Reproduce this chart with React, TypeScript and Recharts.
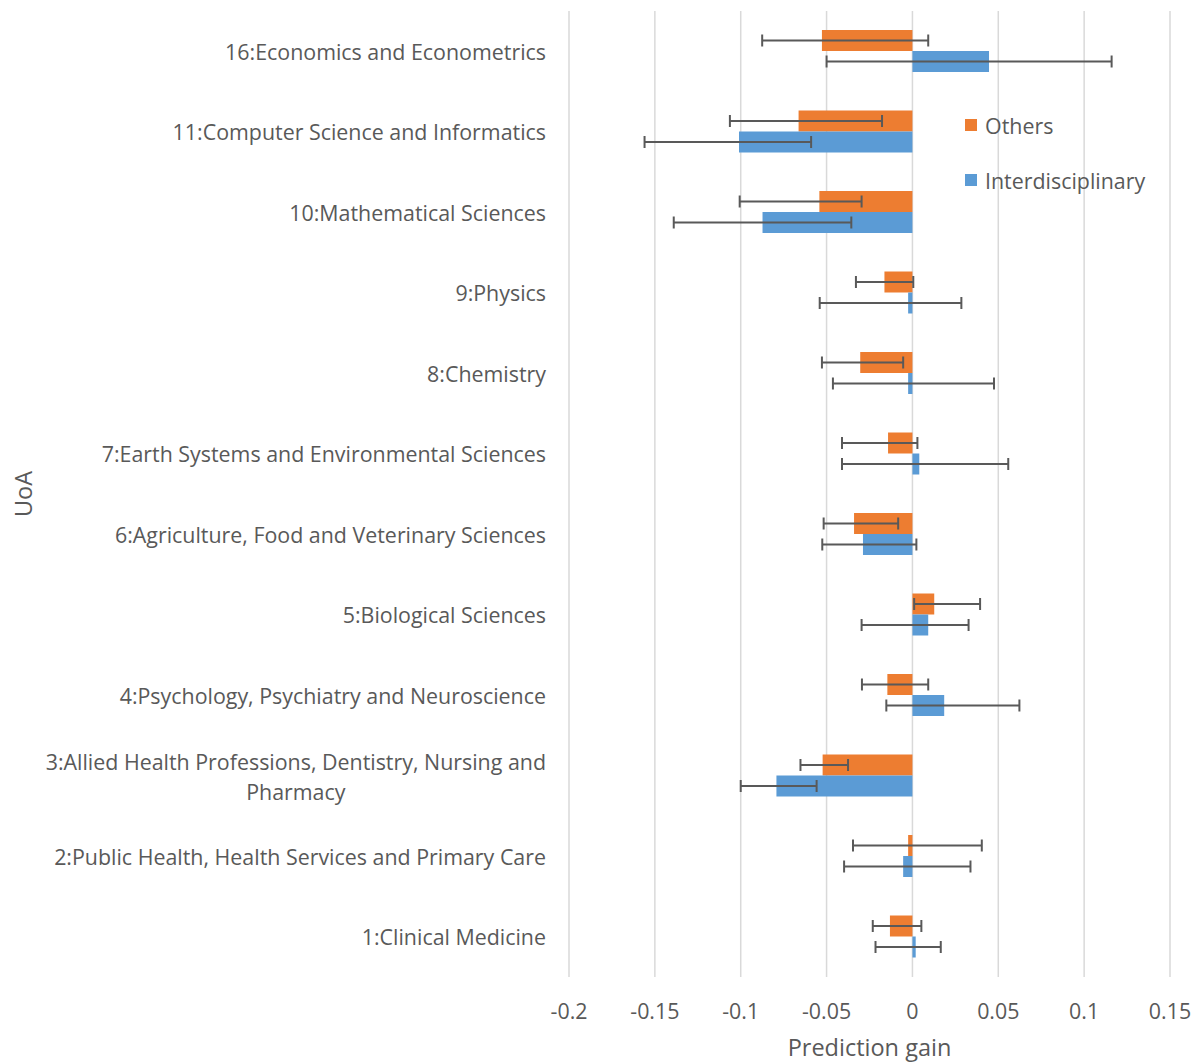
import React from 'react';
import { BarChart, Bar, XAxis, YAxis, CartesianGrid, ErrorBar, Legend } from 'recharts';

const categories = [
  '16:Economics and Econometrics',
  '11:Computer Science and Informatics',
  '10:Mathematical Sciences',
  '9:Physics',
  '8:Chemistry',
  '7:Earth Systems and Environmental Sciences',
  '6:Agriculture, Food and Veterinary Sciences',
  '5:Biological Sciences',
  '4:Psychology, Psychiatry and Neuroscience',
  '3:Allied Health Professions, Dentistry, Nursing and Pharmacy',
  '2:Public Health, Health Services and Primary Care',
  '1:Clinical Medicine',
];

const othersValues = [-0.0527, -0.0663, -0.0542, -0.0163, -0.0304, -0.0142, -0.034, 0.0127, -0.0146, -0.0523, -0.0025, -0.0131];
const othersLow = [-0.0875, -0.1063, -0.1006, -0.0329, -0.0527, -0.041, -0.0517, 0.001, -0.0294, -0.0652, -0.0346, -0.0231];
const othersHigh = [0.0092, -0.0177, -0.0296, 0.0005, -0.0054, 0.0029, -0.0083, 0.0394, 0.0092, -0.0375, 0.0404, 0.0052];

const interValues = [0.0446, -0.101, -0.0873, -0.0025, -0.0025, 0.004, -0.0288, 0.0092, 0.0185, -0.0792, -0.0054, 0.0019];
const interLow = [-0.05, -0.156, -0.139, -0.054, -0.0463, -0.041, -0.0525, -0.0296, -0.0152, -0.1, -0.0398, -0.0215];
const interHigh = [0.116, -0.059, -0.0356, 0.0285, 0.0475, 0.0558, 0.0023, 0.0327, 0.0623, -0.0558, 0.0338, 0.0165];

const xTicks = [-0.2, -0.15, -0.1, -0.05, 0, 0.05, 0.1, 0.15];
const seriesNames = ['Others', 'Interdisciplinary'];
const seriesColors = ['#ED7D31', '#5B9BD5'];

const data = categories.map((c, i) => ({
  name: c,
  others: othersValues[i],
  othersErr: [othersValues[i] - othersLow[i], othersHigh[i] - othersValues[i]],
  inter: interValues[i],
  interErr: [interValues[i] - interLow[i], interHigh[i] - interValues[i]],
}));

const FONT = '"Open Sans", sans-serif';
const FONT_SIZE = 21.4;
const TITLE_SIZE = 23.5;
const TEXT_COLOR = '#595959';

let canvasCtx: CanvasRenderingContext2D | null = null;
function measure(text: string): number {
  if (!canvasCtx) {
    const c = document.createElement('canvas');
    canvasCtx = c.getContext('2d');
  }
  if (!canvasCtx) return text.length * 10;
  canvasCtx.font = `${FONT_SIZE}px "Open Sans"`;
  return canvasCtx.measureText(text).width;
}

function wrapLabel(text: string, maxChars: number): string[] {
  if (text.length <= maxChars) return [text];
  const words = text.split(' ');
  const lines: string[] = [];
  let cur = '';
  for (const w of words) {
    const next = cur ? cur + ' ' + w : w;
    if (next.length > maxChars && cur) {
      lines.push(cur);
      cur = w;
    } else {
      cur = next;
    }
  }
  if (cur) lines.push(cur);
  return lines;
}

const YTick = (props: any) => {
  const { x, y, payload } = props;
  const lines = wrapLabel(String(payload.value), 52);
  if (lines.length === 1) {
    return (
      <text x={x} y={y} textAnchor="end" dominantBaseline="central" fill={TEXT_COLOR} fontSize={FONT_SIZE} fontFamily={FONT}>
        {lines[0]}
      </text>
    );
  }
  const w = measure(lines[0]);
  const cx = x - w / 2;
  const lh = 30;
  const startY = y - ((lines.length - 1) * lh) / 2;
  return (
    <text textAnchor="middle" dominantBaseline="central" fill={TEXT_COLOR} fontSize={FONT_SIZE} fontFamily={FONT}>
      {lines.map((l, i) => (
        <tspan key={i} x={cx} y={startY + i * lh}>{l}</tspan>
      ))}
    </text>
  );
};

const XTick = (props: any) => {
  const { x, y, payload } = props;
  return (
    <text x={x} y={y + 25} textAnchor="middle" dominantBaseline="central" fill={TEXT_COLOR} fontSize={FONT_SIZE} fontFamily={FONT}>
      {String(payload.value)}
    </text>
  );
};

const LegendContent = () => (
  <div style={{ fontFamily: FONT, fontSize: FONT_SIZE, color: TEXT_COLOR }}>
    {seriesNames.map((n, i) => (
      <div key={n} style={{ display: 'flex', alignItems: 'center', height: 30, marginBottom: i === 0 ? 25 : 0 }}>
        <span style={{ display: 'inline-block', width: 12, height: 12, background: seriesColors[i], marginRight: 8 }} />
        <span>{n}</span>
      </div>
    ))}
  </div>
);

export default function App() {
  return (
    <div style={{ width: 1183, height: 1055 }}>
      <BarChart
        width={1183}
        height={1055}
        data={data}
        layout="vertical"
        margin={{ top: 3, right: 21, bottom: 0, left: 0 }}
        barGap={0}
      >
        <CartesianGrid horizontal={false} stroke="#D9D9D9" strokeWidth={1.5} />
        <XAxis
          type="number"
          domain={[-0.2, 0.15]}
          ticks={xTicks}
          allowDataOverflow
          axisLine={false}
          tickLine={false}
          height={86}
          tick={<XTick />}
          interval={0}
          label={{
            content: (p: any) => {
              const vb = p.viewBox || {};
              return (
                <text x={vb.x + vb.width / 2} y={vb.y + vb.height - 7} textAnchor="middle" fill={TEXT_COLOR} fontSize={TITLE_SIZE} fontFamily={FONT}>
                  Prediction gain
                </text>
              );
            },
          }}
        />
        <YAxis
          type="category"
          dataKey="name"
          width={561}
          axisLine={false}
          tickLine={false}
          tickMargin={17}
          interval={0}
          tick={<YTick />}
          label={{
            content: (p: any) => {
              const vb = p.viewBox || {};
              const cx = vb.x + 15;
              const cy = vb.y + vb.height / 2;
              return (
                <text x={cx} y={cy} transform={`rotate(-90, ${cx}, ${cy})`} textAnchor="middle" dominantBaseline="central" fill={TEXT_COLOR} fontSize={TITLE_SIZE} fontFamily={FONT}>
                  UoA
                </text>
              );
            },
          }}
        />
        <Legend
          layout="vertical"
          align="center"
          verticalAlign="middle"
          content={<LegendContent />}
          wrapperStyle={{ position: 'absolute', left: 957, top: 102, width: 220 }}
        />
        <Bar dataKey="others" name={seriesNames[0]} fill={seriesColors[0]} barSize={21} isAnimationActive={false}>
          <ErrorBar dataKey="othersErr" direction="x" width={6} stroke="#595959" strokeWidth={2} isAnimationActive={false} />
        </Bar>
        <Bar dataKey="inter" name={seriesNames[1]} fill={seriesColors[1]} barSize={21} isAnimationActive={false}>
          <ErrorBar dataKey="interErr" direction="x" width={6} stroke="#595959" strokeWidth={2} isAnimationActive={false} />
        </Bar>
      </BarChart>
    </div>
  );
}
